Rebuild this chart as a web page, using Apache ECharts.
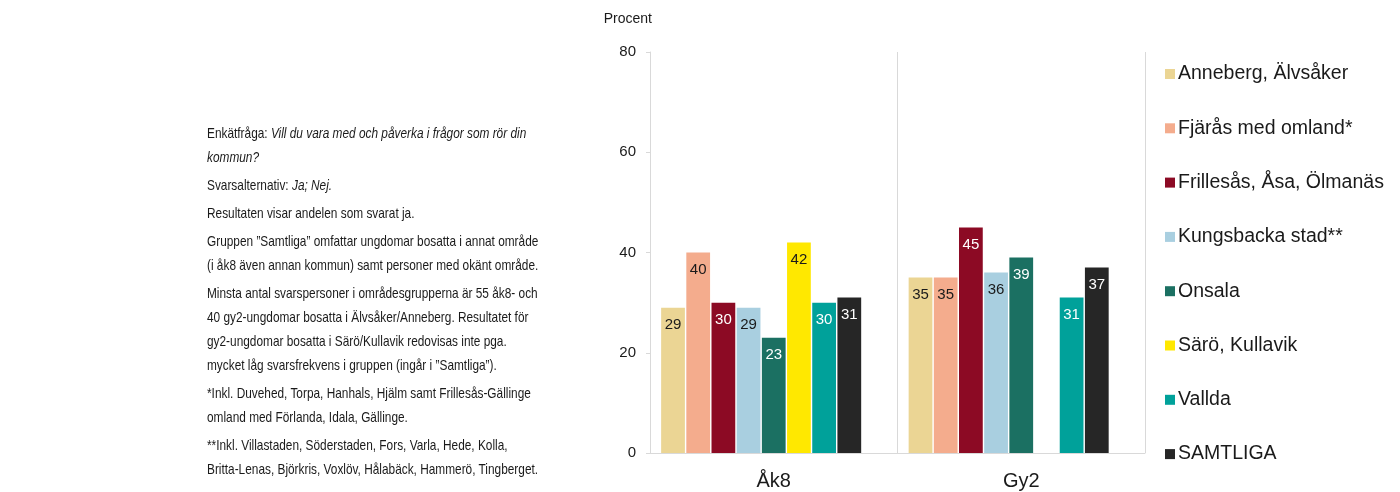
<!DOCTYPE html>
<html>
<head>
<meta charset="utf-8">
<script src="https://cdn.jsdelivr.net/npm/echarts@6/dist/echarts.min.js"></script>
<style>
  html, body { margin: 0; padding: 0; background: #fff; }
  #chart { width: 1400px; height: 492px; }
  .notes {
    position: absolute; left: 207px; top: 121px; width: 440px;
    font-family: 'Liberation Sans', Arial, sans-serif; font-size: 15px;
    line-height: 24px; color: #1a1a1a; white-space: nowrap;
    transform: scaleX(0.79); transform-origin: left top;
  }
  .notes p { margin: 0 0 4px 0; }
</style>
</head>
<body>
<div id="chart"></div>
<div class="notes">
  <p>Enkätfråga: <i>Vill du vara med och påverka i frågor som rör din<br>kommun?</i></p>
  <p>Svarsalternativ: <i>Ja; Nej.</i></p>
  <p>Resultaten visar andelen som svarat ja.</p>
  <p>Gruppen ”Samtliga” omfattar ungdomar bosatta i annat område<br>(i åk8 även annan kommun) samt personer med okänt område.</p>
  <p>Minsta antal svarspersoner i områdesgrupperna är 55 åk8- och<br>40 gy2-ungdomar bosatta i Älvsåker/Anneberg. Resultatet för<br>gy2-ungdomar bosatta i Särö/Kullavik redovisas inte pga.<br>mycket låg svarsfrekvens i gruppen (ingår i ”Samtliga”).</p>
  <p>*Inkl. Duvehed, Torpa, Hanhals, Hjälm samt Frillesås-Gällinge<br>omland med Förlanda, Idala, Gällinge.</p>
  <p>**Inkl. Villastaden, Söderstaden, Fors, Varla, Hede, Kolla,<br>Britta-Lenas, Björkris, Voxlöv, Hålabäck, Hammerö, Tingberget.</p>
</div>
<script>
// --- Data ---
const categories = ['Åk8', 'Gy2']
const seriesNames = [
  'Anneberg, Älvsåker',
  'Fjärås med omland*',
  'Frillesås, Åsa, Ölmanäs',
  'Kungsbacka stad**',
  'Onsala',
  'Särö, Kullavik',
  'Vallda',
  'SAMTLIGA',
]
const anneberg = [29, 35]
const fjaras = [40, 35]
const frillesas = [30, 45]
const kungsbacka = [29, 36]
const onsala = [23, 39]
const saro = [42, null]
const vallda = [30, 31]
const samtliga = [31, 37]
const yTicks = [0, 20, 40, 60, 80]

const seriesValues = [anneberg, fjaras, frillesas, kungsbacka, onsala, saro, vallda, samtliga]
const colors = ['#EBD594', '#F4AC8D', '#8C0A24', '#A9CFE0', '#1B7062', '#FFE800', '#00A19A', '#262626']
const labelColors = ['#1a1a1a', '#1a1a1a', '#fff', '#1a1a1a', '#fff', '#1a1a1a', '#fff', '#fff']

const FONT = "'Liberation Sans', Arial, sans-serif"

const chart = echarts.init(document.getElementById('chart'))

const series = seriesValues.map((vals, i) => ({
  name: seriesNames[i],
  type: 'bar',
  data: vals,
  barGap: '6%',
  barCategoryGap: '9%',
  itemStyle: { color: colors[i] },
  label: {
    show: true,
    position: 'insideTop',
    distance: 10,
    color: labelColors[i],
    fontFamily: FONT,
    fontSize: 15,
  },
}))
// empty slot that Excel leaves after the last series
series.push({
  name: '',
  type: 'bar',
  data: [null, null],
  barGap: '6%',
  barCategoryGap: '9%',
})

chart.setOption({
  animation: false,
  textStyle: { fontFamily: FONT },
  grid: { left: 650, right: 255, top: 52, bottom: 39 },
  legend: {
    data: seriesNames,
    orient: 'vertical',
    left: 1160,
    top: 59,
    itemGap: 34.3,
    itemWidth: 10,
    itemHeight: 10,
    icon: 'rect',
    textStyle: { fontFamily: FONT, fontSize: 19.5, lineHeight: 20, color: '#1a1a1a', padding: [0, 0, 0, -2] },
  },
  xAxis: {
    type: 'category',
    data: categories,
    axisLine: { lineStyle: { color: '#d9d9d9' } },
    axisTick: { show: false },
    splitLine: { show: true, lineStyle: { color: '#d9d9d9' } },
    axisLabel: { color: '#1a1a1a', fontSize: 20, margin: 18, fontFamily: FONT },
  },
  yAxis: {
    type: 'value',
    min: yTicks[0],
    max: yTicks[yTicks.length - 1],
    interval: 20,
    name: 'Procent',
    nameLocation: 'end',
    nameGap: 26,
    nameTextStyle: { align: 'right', color: '#1a1a1a', fontSize: 14, fontFamily: FONT, padding: [0, -2, 0, 0] },
    axisLine: { show: true, lineStyle: { color: '#d9d9d9' } },
    axisTick: { show: true, length: 4, lineStyle: { color: '#d9d9d9' } },
    splitLine: { show: false },
    axisLabel: { color: '#1a1a1a', fontSize: 15, margin: 14, fontFamily: FONT },
  },
  series,
})

window.addEventListener('resize', () => chart.resize())
</script>
</body>
</html>
